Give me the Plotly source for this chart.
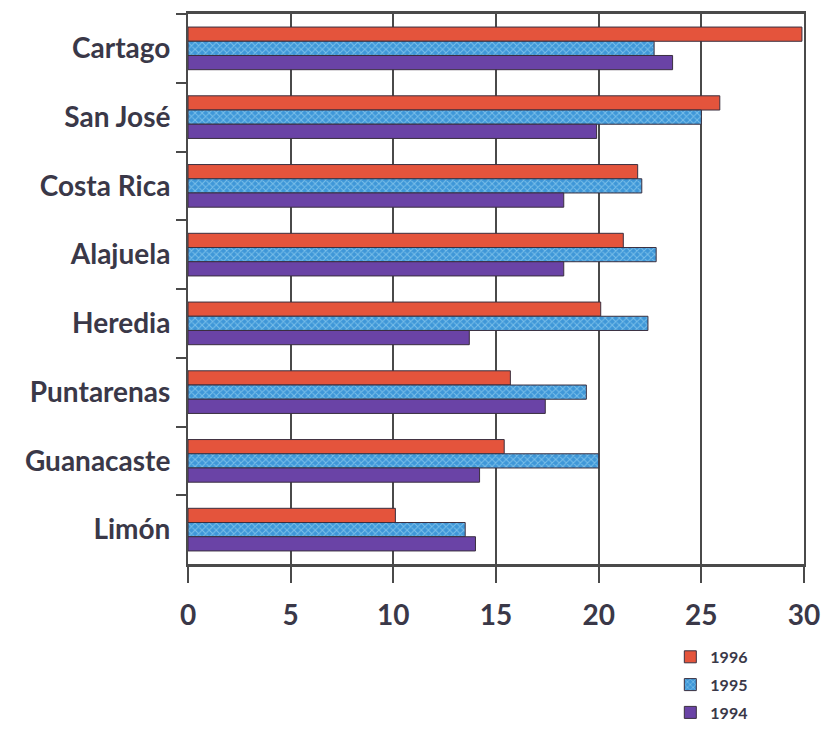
import plotly.graph_objects as go

# Provinces (top to bottom) and yearly values
provinces = ["Cartago", "San José", "Costa Rica", "Alajuela", "Heredia",
             "Puntarenas", "Guanacaste", "Limón"]
years = ["1996", "1995", "1994"]
values_1996 = [29.9, 25.9, 21.9, 21.2, 20.1, 15.7, 15.4, 10.1]
values_1995 = [22.7, 25.0, 22.1, 22.8, 22.4, 19.4, 20.0, 13.5]
values_1994 = [23.6, 19.9, 18.3, 18.3, 13.7, 17.4, 14.2, 14.0]
x_ticks = [0, 5, 10, 15, 20, 25, 30]

series = [values_1996, values_1995, values_1994]
fills = ["#e4543c", "#3f97d8", "#6a43a6"]
patterns = [None,
            dict(shape="x", fgcolor="#b4e6f8", bgcolor="#3f97d8", size=5, solidity=0.35),
            None]

text_color = "#3a3848"
line_color = "#4a4a4a"

fig = go.Figure()
for name, vals, col, pat in zip(years, series, fills, patterns):
    marker = dict(color=col, line=dict(color="#3a2f3f", width=1))
    if pat:
        marker["pattern"] = pat
    fig.add_trace(go.Bar(
        y=provinces, x=vals, name=name, orientation="h",
        marker=marker, legendgroup=name,
    ))

fig.update_layout(
    width=831, height=735,
    margin=dict(l=188, r=27, t=14, b=171, autoexpand=False),
    paper_bgcolor="white", plot_bgcolor="white",
    barmode="group", bargap=0.38, bargroupgap=0,
    font=dict(family="Lato", color=text_color),
    showlegend=True,
    legend=dict(
        x=0.783, y=-0.138, xanchor="left", yanchor="top",
        font=dict(family="Lato", size=16, weight="bold", color=text_color),
        bgcolor="rgba(0,0,0,0)", tracegroupgap=4, traceorder="grouped",
        itemwidth=30,
    ),
)

fig.update_xaxes(
    range=[0, 30], tickvals=x_ticks, ticktext=[str(t) for t in x_ticks],
    showgrid=True, gridcolor=line_color, gridwidth=1.5,
    showline=True, linecolor=line_color, linewidth=2.5, mirror=True,
    ticks="outside", ticklen=16, tickwidth=2, tickcolor=line_color,
    tickfont=dict(family="Lato", size=28, weight="bold", color=text_color),
    ticklabelstandoff=9, zeroline=False,
)
fig.update_yaxes(
    categoryorder="array", categoryarray=provinces, autorange="reversed",
    showline=True, linecolor=line_color, linewidth=2, mirror=True,
    ticks="outside", ticklen=10, tickwidth=2, tickcolor=line_color,
    tickson="boundaries", showgrid=False,
    tickfont=dict(family="Lato", size=28, weight="bold", color=text_color),
    ticklabelstandoff=10,
)

fig.write_html("out.html")
